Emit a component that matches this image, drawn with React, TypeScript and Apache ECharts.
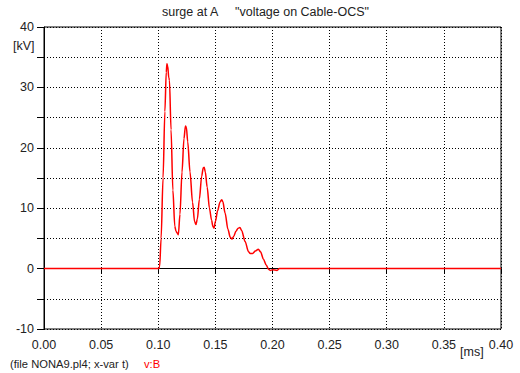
import React, { useEffect, useRef } from "react";
import * as echarts from "echarts";

const timeMs = [0, 0.1005, 0.1012, 0.1025, 0.1042, 0.1058, 0.107, 0.1076, 0.1083, 0.1092, 0.1098, 0.1112, 0.1128, 0.1145, 0.1155, 0.1166, 0.1176, 0.119, 0.1208, 0.1225, 0.1238, 0.1246, 0.1258, 0.1278, 0.13, 0.1318, 0.133, 0.1342, 0.136, 0.138, 0.1394, 0.1402, 0.1412, 0.1428, 0.1448, 0.1467, 0.1478, 0.1488, 0.15, 0.152, 0.154, 0.1555, 0.1565, 0.1585, 0.161, 0.163, 0.1645, 0.166, 0.168, 0.17, 0.1715, 0.173, 0.176, 0.179, 0.1805, 0.1826, 0.185, 0.1876, 0.1895, 0.192, 0.1945, 0.1965, 0.198, 0.2, 0.204, 0.206, 0.4];
const voltageKV = [0, 0, 0.3, 5, 15, 26, 32.5, 33.9, 33.5, 31.6, 31.2, 23, 13, 7, 6.2, 5.9, 5.6, 9, 16, 21.5, 23.6, 23.4, 21, 16, 11, 7.8, 7.3, 8.2, 11.5, 15.3, 16.7, 16.8, 16.0, 13.5, 10, 8.0, 7.0, 6.7, 7.8, 9.6, 11.0, 11.4, 11.1, 9.2, 6.5, 5.2, 4.9, 5.3, 6.2, 6.7, 6.8, 6.3, 4.5, 2.8, 2.5, 2.5, 2.9, 3.2, 2.8, 1.6, 0.6, -0.1, -0.3, -0.2, -0.3, 0, 0];

const titleLeft = "surge at A";
const titleRight = "\"voltage on Cable-OCS\"";
const yUnit = "[kV]";
const xUnit = "[ms]";
const footerText = "(file NONA9.pl4; x-var t)";
const footerSeries = "v:B";

const FONT = "'Liberation Sans', Arial, sans-serif";

export default function App() {
  const ref = useRef<HTMLDivElement>(null);
  useEffect(() => {
    if (!ref.current) return;
    const chart = echarts.init(ref.current, undefined, { renderer: "svg" });
    const data = timeMs.map((t, i) => [t, voltageKV[i]]);
    chart.setOption({
      animation: false,
      backgroundColor: "#ffffff",
      grid: {
        left: 44,
        top: 27,
        width: 457,
        height: 302,
        show: true,
        borderColor: "#000",
        borderWidth: 1,
        backgroundColor: "transparent",
      },
      xAxis: {
        type: "value",
        min: 0,
        max: 0.4,
        interval: 0.05,
        axisLine: { show: true, lineStyle: { color: "#000", width: 1 } },
        axisTick: { show: true, inside: false, length: 5, lineStyle: { color: "#000" } },
        axisLabel: {
          margin: 9,
          color: "#222",
          fontSize: 12.5,
          fontFamily: FONT,
          formatter: (v: number) => v.toFixed(2),
        },
        splitLine: { show: true, lineStyle: { color: "#000", type: [1, 2], width: 1 } },
      },
      yAxis: {
        type: "value",
        min: -10,
        max: 40,
        interval: 5,
        axisLine: { show: true, lineStyle: { color: "#000", width: 1 } },
        axisTick: { show: true, inside: false, length: 7, lineStyle: { color: "#000" } },
        axisLabel: {
          margin: 10,
          color: "#222",
          fontSize: 12.5,
          fontFamily: FONT,
          formatter: (v: number) => (v % 10 === 0 ? String(v) : ""),
        },
        splitLine: { show: true, lineStyle: { color: "#000", type: [1, 2], width: 1 } },
      },
      series: [
        {
          type: "line",
          data,
          showSymbol: false,
          smooth: 0.3,
          smoothMonotone: "x",
          lineStyle: { color: "#ff0000", width: 1.5 },
          itemStyle: { color: "#ff0000" },
          z: 5,
        },
      ],
      graphic: [
        { type: "text", left: 162, top: 5, style: { text: titleLeft, fill: "#222", font: `12.5px ${FONT}` } },
        { type: "text", left: 235, top: 5, style: { text: titleRight, fill: "#222", font: `12.5px ${FONT}` } },
        { type: "text", left: 13, top: 39, style: { text: yUnit, fill: "#222", font: `12.5px ${FONT}` } },
        { type: "text", left: 460, top: 345, style: { text: xUnit, fill: "#222", font: `12.5px ${FONT}` } },
        { type: "text", left: 10, top: 358, style: { text: footerText, fill: "#222", font: `11.2px ${FONT}` } },
        { type: "text", left: 144, top: 358, style: { text: footerSeries, fill: "#ff0000", font: `11.2px ${FONT}` } },
      ],
    });
    return () => chart.dispose();
  }, []);
  return <div ref={ref} style={{ width: 520, height: 373, position: "absolute", left: 0, top: 0 }} />;
}
